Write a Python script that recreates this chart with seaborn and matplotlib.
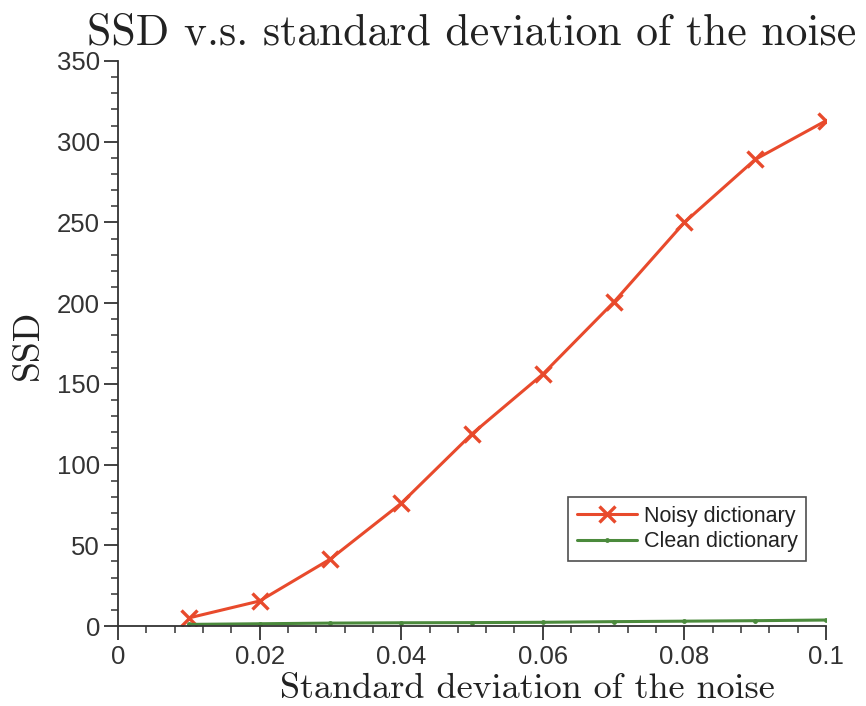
import matplotlib
matplotlib.use("Agg")
import matplotlib.pyplot as plt
import seaborn as sns
import pandas as pd
import numpy as np
from matplotlib.ticker import MultipleLocator, FuncFormatter

noise_std = [0.01, 0.02, 0.03, 0.04, 0.05, 0.06, 0.07, 0.08, 0.09, 0.1]
ssd_noisy = [5, 15.5, 41.5, 76, 119, 156, 200.5, 250, 289, 313]
ssd_clean = [1.0, 1.4, 1.8, 2.0, 2.1, 2.3, 2.7, 3.0, 3.3, 3.7]
series_names = ["Noisy dictionary", "Clean dictionary"]
x_ticks = [0, 0.02, 0.04, 0.06, 0.08, 0.1]
y_ticks = [0, 50, 100, 150, 200, 250, 300, 350]

sns.set_theme(style="ticks")
plt.rcParams['font.family'] = ['Liberation Sans', 'DejaVu Sans']

df = pd.DataFrame({
    "x": noise_std * 2,
    "y": ssd_noisy + ssd_clean,
    "series": [series_names[0]] * len(noise_std) + [series_names[1]] * len(noise_std),
})

fig = plt.figure(figsize=(8.66, 7.06), dpi=100)
ax = fig.add_axes([0.1363, 0.1133, 0.9538 - 0.1363, 0.9136 - 0.1133])

red = "#e84a2c"
green = "#4b8a3c"
sns.lineplot(data=df[df.series == series_names[0]], x="x", y="y", ax=ax,
             color=red, marker="x", markersize=11, markeredgewidth=2.4,
             linewidth=2.2, label=series_names[0], markeredgecolor=red)
sns.lineplot(data=df[df.series == series_names[1]], x="x", y="y", ax=ax,
             color=green, marker="o", markersize=3.5, markeredgewidth=0,
             linewidth=2.2, label=series_names[1])

ax.set_xlim(0, 0.1)
ax.set_ylim(0, 350)
ax.set_xticks(x_ticks)
ax.set_yticks(y_ticks)
ax.xaxis.set_minor_locator(MultipleLocator(0.004))
ax.yaxis.set_minor_locator(MultipleLocator(10))
ax.xaxis.set_major_formatter(FuncFormatter(lambda v, p: f"{v:g}"))

for s in ["top", "right"]:
    ax.spines[s].set_visible(False)
for s in ["left", "bottom"]:
    ax.spines[s].set_color("#333333")
    ax.spines[s].set_linewidth(1.3)

ax.tick_params(axis="both", which="major", length=10, width=1.3, colors="#333333",
               labelsize=18.5, labelcolor="#333333", direction="out")
ax.tick_params(axis="both", which="minor", length=5, width=1.1, colors="#333333",
               direction="out")
ax.tick_params(axis="x", which="major", pad=3.5)
ax.tick_params(axis="y", which="major", pad=3)

ax.set_title("SSD v.s. standard deviation of the noise", family="cmr10",
             fontsize=31.5, color="#222222", pad=12, x=0.5)
ax.set_xlabel("Standard deviation of the noise", family="cmr10", fontsize=26,
              color="#222222")
ax.xaxis.label.set_va("baseline")
ax.xaxis.set_label_coords(0.578, -0.1274)
ax.set_ylabel("SSD", family="cmr10", fontsize=27, color="#222222")
ax.yaxis.set_label_coords(-0.104, 0.497)

leg = ax.legend(loc="upper left", bbox_to_anchor=(0.636, 0.228), fontsize=15.5,
                frameon=True, fancybox=False, edgecolor="#222222",
                handlelength=2.8, borderpad=0.4, labelspacing=0.2,
                handletextpad=0.3, borderaxespad=0)
leg.get_frame().set_linewidth(1.2)
for t in leg.get_texts():
    t.set_color("#222222")

fig.savefig("out.png", dpi=100)
